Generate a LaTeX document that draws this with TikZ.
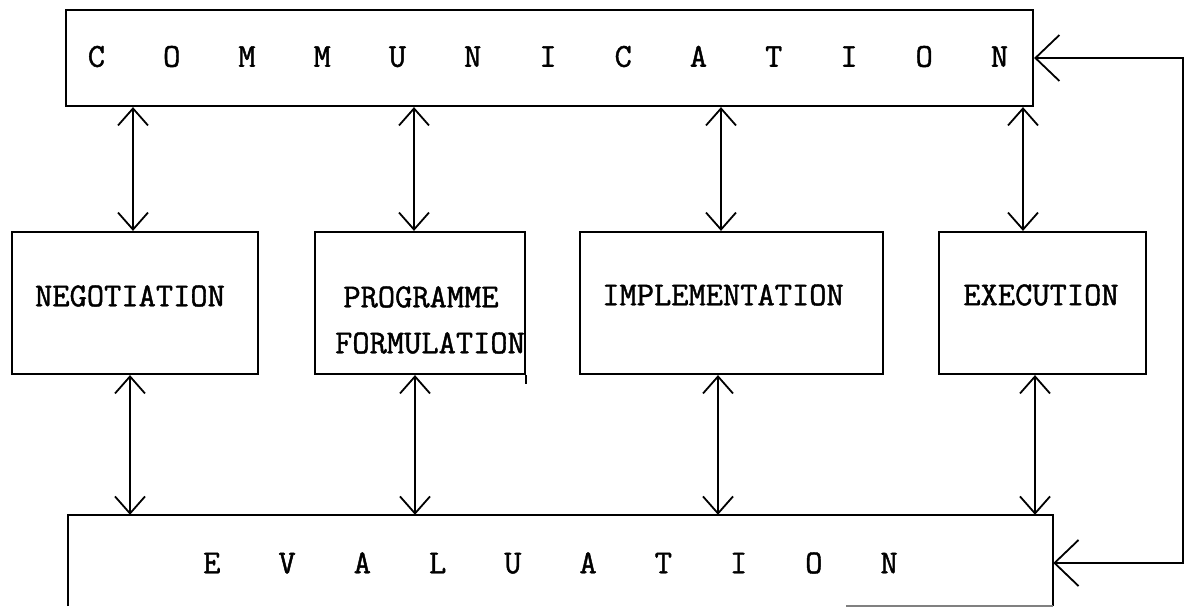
\documentclass[tikz,border=0pt]{standalone}
\usepackage{fontspec}
\newfontfamily\typewr[FakeBold=1.3]{Latin Modern Mono}
\usetikzlibrary{arrows.meta,calc}
\begin{document}
\begin{tikzpicture}[x=1pt,y=-1pt,
  box/.style={draw, line width=2.2pt, inner sep=0pt},
  lbl/.style={font=\typewr\fontsize{33.5}{40}\selectfont, inner sep=0pt},
  spaced/.style={lbl, execute at begin node={\spaceskip=58pt\relax}},
  biarrow/.style={{Straight Barb[length=17pt,width=30pt]}-{Straight Barb[length=17pt,width=30pt]}, line width=1.8pt},
  fbarrow/.style={{Straight Barb[length=24pt,width=46pt]}-{Straight Barb[length=24pt,width=46pt]}, line width=1.8pt}]
\fill[white] (0,0) rectangle (1186,608);
\useasboundingbox (0,0) rectangle (1186,608);

% boxes
\node[box, minimum width=967pt, minimum height=96pt] (comm) at (549.5,58) {};
\node[box, minimum width=246pt, minimum height=142pt] (neg) at (135,303) {};
\node[box, minimum width=210pt, minimum height=142pt] (prog) at (420,303) {};
\node[box, minimum width=303pt, minimum height=142pt] (impl) at (731.5,303) {};
\node[box, minimum width=207pt, minimum height=142pt] (exec) at (1042.5,303) {};
\node[inner sep=0pt, minimum width=985pt, minimum height=91pt] (eval) at (560.5,560.5) {};
\draw[line width=2.2pt] (eval.south west) -- (eval.north west) -- (eval.north east) -- (eval.south east);
\draw[line width=1.5pt, gray] ($(eval.south east)+(-207,0)$) -- (eval.south east);
\draw[line width=1.5pt] (prog.south east) -- ++(0,9);

% texts
\node[spaced] (commtext) at (548,56.5) {C O M M U N I C A T I O N};
\node[lbl] (negtext) at (130,296) {NEGOTIATION};
\node[lbl] (progtext1) at (421,297) {PROGRAMME};
\node[lbl] (progtext2) at (430,343) {FORMULATION};
\node[lbl] (impltext) at (723,295) {IMPLEMENTATION};
\node[lbl] (exectext) at (1041,295) {EXECUTION};
\node[spaced] (evaltext) at (550.5,563) {E V A L U A T I O N};

% communication <-> activities
\draw[biarrow] ($(neg.north |- comm.south)+(-2,0)$) -- ($(neg.north)+(-2,0)$);
\draw[biarrow] ($(prog.north |- comm.south)+(-6,0)$) -- ($(prog.north)+(-6,0)$);
\draw[biarrow] ($(impl.north |- comm.south)+(-10.5,0)$) -- ($(impl.north)+(-10.5,0)$);
\draw[biarrow] ($(exec.north |- comm.south)+(-19.5,0)$) -- ($(exec.north)+(-19.5,0)$);

% activities <-> evaluation
\draw[biarrow] ($(neg.south)+(-5,0)$) -- ($(neg.south |- eval.north)+(-5,0)$);
\draw[biarrow] ($(prog.south)+(-5,0)$) -- ($(prog.south |- eval.north)+(-5,0)$);
\draw[biarrow] ($(impl.south)+(-13.5,0)$) -- ($(impl.south |- eval.north)+(-13.5,0)$);
\draw[biarrow] ($(exec.south)+(-7.5,0)$) -- ($(exec.south |- eval.north)+(-7.5,0)$);

% feedback loop
\draw[fbarrow] ($(eval.east)+(0,2.5)$) -- ++(130,0) |- (comm.east);
\end{tikzpicture}
\end{document}
